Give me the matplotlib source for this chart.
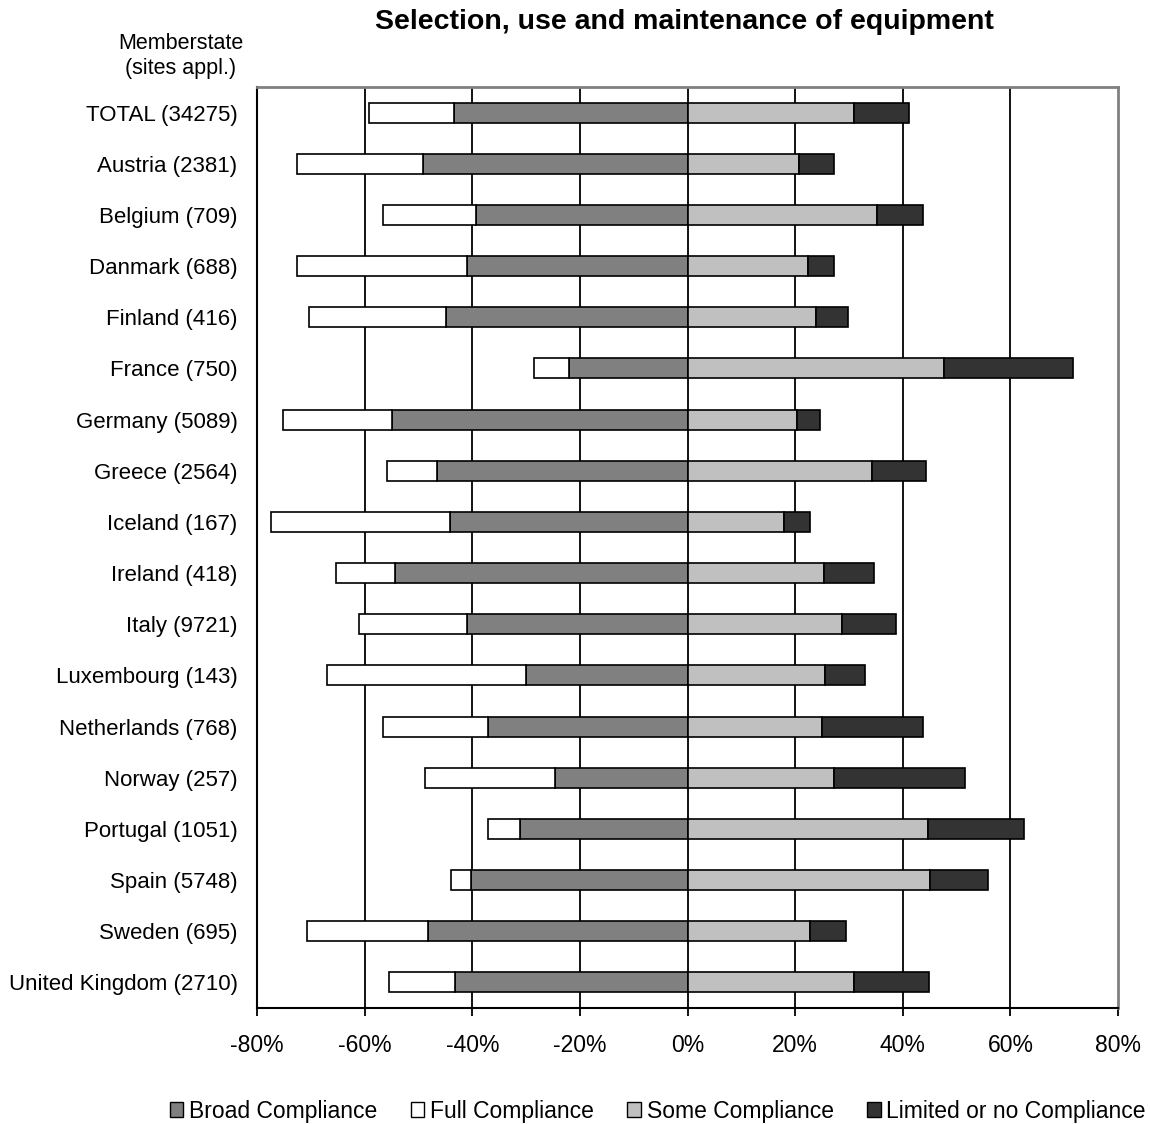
import numpy as np
import matplotlib.pyplot as plt
from matplotlib.patches import Patch

plt.rcParams['font.family'] = ['Liberation Sans', 'DejaVu Sans']

# Sites per member state, share (%) in each compliance class
countries = ["TOTAL (34275)", "Austria (2381)", "Belgium (709)", "Danmark (688)",
             "Finland (416)", "France (750)", "Germany (5089)", "Greece (2564)",
             "Iceland (167)", "Ireland (418)", "Italy (9721)", "Luxembourg (143)",
             "Netherlands (768)", "Norway (257)", "Portugal (1051)", "Spain (5748)",
             "Sweden (695)", "United Kingdom (2710)"]
broad = [43.4, 49.1, 39.4, 40.9, 44.9, 22.0, 55.0, 46.5, 44.2,
         54.3, 40.9, 30.1, 37.1, 24.6, 31.2, 40.2, 48.3, 43.2]
full = [15.8, 23.5, 17.1, 31.7, 25.4, 6.6, 20.2, 9.3, 33.2,
        11.1, 20.1, 36.9, 19.5, 24.1, 5.9, 3.7, 22.4, 12.2]
some = [30.9, 20.8, 35.3, 22.3, 23.8, 47.6, 20.4, 34.2, 17.9,
        25.3, 28.7, 25.6, 24.9, 27.2, 44.7, 45.0, 22.7, 30.9]
limited = [10.2, 6.5, 8.4, 5.0, 6.0, 24.0, 4.3, 10.2, 4.9,
           9.4, 10.1, 7.3, 18.8, 24.3, 17.9, 10.9, 6.8, 13.9]
xticks = [-80, -60, -40, -20, 0, 20, 40, 60, 80]

broad = np.array(broad)
full = np.array(full)
some = np.array(some)
limited = np.array(limited)
y = np.arange(len(countries))

fig = plt.figure(figsize=(11.5, 11.24), dpi=100)
ax = fig.add_axes([0.2235, 0.1032, 0.7487, 0.8194])

h = 0.39
kw = dict(height=h, edgecolor="black", linewidth=1.2, zorder=3)
ax.barh(y, -broad, color="#808080", **kw)
ax.barh(y, -full, left=-broad, color="white", **kw)
ax.barh(y, some, color="#c0c0c0", **kw)
ax.barh(y, limited, left=some, color="#333333", **kw)

# vertical gridlines at every major tick inside the frame
for v in xticks[1:-1]:
    ax.axvline(v, color="black", lw=1.3, zorder=1)

ax.set_xlim(-80, 80)
ax.set_ylim(len(countries) - 0.5, -0.5)
ax.set_xticks(xticks)
ax.set_xticklabels([f"{v}%" for v in xticks], fontsize=16.5)
ax.set_yticks(y)
ax.set_yticklabels(countries, fontsize=16)
ax.tick_params(axis="y", length=0, pad=14)
ax.tick_params(axis="x", direction="out", length=6, width=1.3, pad=13)

for s in ["left", "bottom"]:
    ax.spines[s].set_color("black")
    ax.spines[s].set_linewidth(1.5)
for s in ["top", "right"]:
    ax.spines[s].set_color("#808080")
    ax.spines[s].set_linewidth(2)

fig.text(0.595, 0.980, "Selection, use and maintenance of equipment",
         ha="center", va="center", fontsize=20.5, fontweight="bold")
fig.text(0.157, 0.950, "Memberstate\n(sites appl.)", ha="center", va="center",
         fontsize=15.5, linespacing=1.25)

handles = [Patch(facecolor="#808080", edgecolor="black", label="Broad Compliance"),
           Patch(facecolor="white", edgecolor="black", label="Full Compliance"),
           Patch(facecolor="#c0c0c0", edgecolor="black", label="Some Compliance"),
           Patch(facecolor="#333333", edgecolor="black", label="Limited or no Compliance")]
fig.legend(handles=handles, loc="center", bbox_to_anchor=(0.572, 0.0115), ncol=4,
           frameon=False, fontsize=16.5, handlelength=0.6, handleheight=0.6,
           handletextpad=0.25, columnspacing=1.45)

fig.savefig("out.png", dpi=100)
